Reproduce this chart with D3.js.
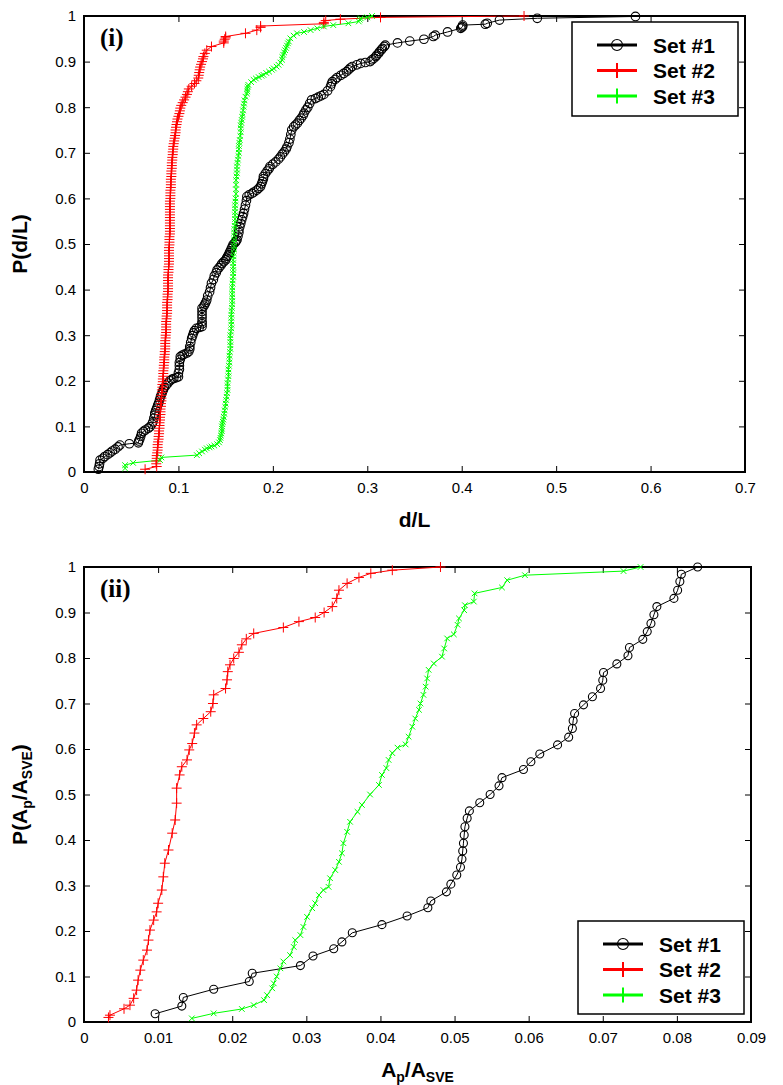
<!DOCTYPE html>
<html>
<head>
<meta charset="utf-8">
<script src="https://cdn.jsdelivr.net/npm/d3@7"></script>
<style>
  body { margin: 0; background: #fff; }
  svg { display: block; }
</style>
</head>
<body>
<div class="chart"></div>
<script>
// tick values
const yTicks = [0, 0.1, 0.2, 0.3, 0.4, 0.5, 0.6, 0.7, 0.8, 0.9, 1];
const xTicksTop = [0, 0.1, 0.2, 0.3, 0.4, 0.5, 0.6, 0.7];
const xTicksBottom = [0, 0.01, 0.02, 0.03, 0.04, 0.05, 0.06, 0.07, 0.08, 0.09];
const setNames = ["Set #1", "Set #2", "Set #3"];

// panel (i): d/L vs cumulative probability, [x, P]
const set1Top = [[0.0152,0.006],[0.016,0.012],[0.0165,0.018],[0.017,0.026],[0.020,0.030],[0.022,0.034],[0.025,0.038],[0.0276,0.042],[0.030,0.046],[0.033,0.050],[0.036,0.055],[0.038,0.059],[0.048,0.062],[0.0576,0.064],[0.058,0.068],[0.059,0.072],[0.060,0.078],[0.061,0.085],[0.063,0.089],[0.065,0.092],[0.068,0.096],[0.070,0.099],[0.072,0.105],[0.073,0.11],[0.074,0.118],[0.075,0.125],[0.075,0.129],[0.076,0.135],[0.077,0.14],[0.078,0.146],[0.079,0.151],[0.080,0.158],[0.081,0.165],[0.082,0.170],[0.083,0.175],[0.084,0.18],[0.085,0.185],[0.087,0.19],[0.089,0.195],[0.091,0.20],[0.093,0.203],[0.095,0.205],[0.098,0.207],[0.100,0.209],[0.100,0.217],[0.101,0.225],[0.101,0.233],[0.101,0.24],[0.102,0.247],[0.102,0.253],[0.104,0.256],[0.106,0.258],[0.109,0.261],[0.111,0.264],[0.112,0.27],[0.112,0.275],[0.113,0.284],[0.114,0.293],[0.115,0.299],[0.116,0.305],[0.117,0.31],[0.119,0.315],[0.122,0.317],[0.125,0.319],[0.125,0.325],[0.125,0.33],[0.125,0.338],[0.125,0.345],[0.125,0.352],[0.125,0.359],[0.127,0.364],[0.128,0.368],[0.129,0.372],[0.130,0.377],[0.131,0.386],[0.133,0.395],[0.134,0.404],[0.135,0.414],[0.137,0.422],[0.138,0.43],[0.140,0.437],[0.141,0.443],[0.143,0.448],[0.145,0.453],[0.146,0.457],[0.148,0.461],[0.150,0.465],[0.151,0.469],[0.152,0.473],[0.153,0.476],[0.154,0.481],[0.155,0.485],[0.156,0.49],[0.157,0.494],[0.158,0.499],[0.160,0.503],[0.161,0.506],[0.162,0.509],[0.163,0.517],[0.164,0.525],[0.164,0.531],[0.165,0.538],[0.166,0.545],[0.167,0.553],[0.168,0.56],[0.169,0.567],[0.170,0.576],[0.171,0.585],[0.172,0.595],[0.1725,0.604],[0.175,0.608],[0.178,0.611],[0.180,0.614],[0.183,0.618],[0.185,0.622],[0.187,0.626],[0.188,0.632],[0.189,0.637],[0.190,0.643],[0.190,0.648],[0.192,0.654],[0.194,0.66],[0.196,0.665],[0.197,0.670],[0.200,0.675],[0.203,0.68],[0.206,0.686],[0.208,0.691],[0.210,0.697],[0.212,0.702],[0.214,0.708],[0.215,0.713],[0.217,0.722],[0.218,0.73],[0.219,0.74],[0.220,0.75],[0.222,0.757],[0.224,0.761],[0.226,0.765],[0.228,0.771],[0.230,0.776],[0.232,0.782],[0.233,0.787],[0.235,0.794],[0.237,0.80],[0.239,0.808],[0.241,0.816],[0.245,0.819],[0.248,0.822],[0.251,0.825],[0.254,0.828],[0.258,0.836],[0.261,0.845],[0.262,0.851],[0.263,0.856],[0.266,0.861],[0.268,0.865],[0.272,0.870],[0.275,0.874],[0.278,0.878],[0.280,0.882],[0.282,0.886],[0.284,0.889],[0.289,0.893],[0.293,0.896],[0.298,0.898],[0.303,0.900],[0.305,0.904],[0.307,0.907],[0.309,0.911],[0.310,0.914],[0.312,0.918],[0.313,0.922],[0.315,0.926],[0.316,0.929],[0.318,0.933],[0.319,0.936],[0.332,0.941],[0.345,0.945],[0.360,0.949],[0.370,0.955],[0.372,0.958],[0.385,0.965],[0.399,0.973],[0.400,0.975],[0.401,0.977],[0.401,0.980],[0.425,0.982],[0.427,0.984],[0.440,0.991],[0.480,0.995],[0.584,0.999]];

const set2Top = [[0.0647,0.006],[0.077,0.012],[0.0765,0.018],[0.0765,0.024],[0.077,0.03],[0.077,0.036],[0.0775,0.042],[0.078,0.048],[0.078,0.054],[0.078,0.06],[0.0785,0.066],[0.079,0.072],[0.079,0.078],[0.0795,0.084],[0.0795,0.09],[0.080,0.096],[0.080,0.102],[0.080,0.108],[0.0805,0.114],[0.0805,0.12],[0.081,0.126],[0.081,0.132],[0.081,0.138],[0.0815,0.144],[0.0815,0.15],[0.082,0.156],[0.082,0.162],[0.082,0.168],[0.0825,0.174],[0.0825,0.18],[0.083,0.186],[0.083,0.192],[0.0835,0.198],[0.0835,0.204],[0.084,0.21],[0.084,0.216],[0.084,0.222],[0.0845,0.228],[0.0845,0.234],[0.085,0.24],[0.085,0.246],[0.085,0.252],[0.0855,0.258],[0.0855,0.264],[0.086,0.27],[0.086,0.276],[0.086,0.282],[0.086,0.288],[0.0865,0.294],[0.0865,0.30],[0.087,0.306],[0.087,0.312],[0.087,0.318],[0.087,0.324],[0.087,0.33],[0.0875,0.336],[0.0875,0.342],[0.088,0.348],[0.088,0.354],[0.088,0.36],[0.088,0.366],[0.088,0.372],[0.0885,0.378],[0.0885,0.384],[0.0885,0.39],[0.089,0.396],[0.089,0.402],[0.089,0.408],[0.089,0.414],[0.089,0.42],[0.089,0.426],[0.089,0.432],[0.0895,0.438],[0.0895,0.444],[0.0895,0.45],[0.090,0.456],[0.090,0.462],[0.090,0.468],[0.090,0.474],[0.090,0.48],[0.090,0.486],[0.090,0.492],[0.0905,0.498],[0.0905,0.504],[0.0905,0.51],[0.0905,0.516],[0.091,0.522],[0.091,0.528],[0.091,0.534],[0.091,0.54],[0.091,0.546],[0.091,0.552],[0.091,0.558],[0.091,0.564],[0.091,0.57],[0.091,0.576],[0.091,0.582],[0.091,0.588],[0.091,0.594],[0.0915,0.60],[0.0915,0.606],[0.0915,0.612],[0.0915,0.618],[0.092,0.624],[0.092,0.63],[0.092,0.636],[0.092,0.642],[0.0925,0.648],[0.0925,0.654],[0.0925,0.66],[0.093,0.666],[0.093,0.672],[0.093,0.678],[0.0935,0.684],[0.0935,0.69],[0.094,0.696],[0.094,0.702],[0.0945,0.708],[0.0945,0.714],[0.095,0.72],[0.0955,0.726],[0.096,0.732],[0.0965,0.738],[0.097,0.744],[0.097,0.75],[0.0975,0.756],[0.098,0.762],[0.0985,0.768],[0.099,0.774],[0.100,0.78],[0.101,0.786],[0.1015,0.792],[0.102,0.798],[0.103,0.804],[0.1045,0.81],[0.106,0.816],[0.1075,0.822],[0.109,0.828],[0.110,0.834],[0.111,0.84],[0.114,0.846],[0.117,0.852],[0.119,0.858],[0.121,0.864],[0.1215,0.87],[0.122,0.876],[0.1225,0.882],[0.123,0.888],[0.124,0.894],[0.125,0.90],[0.126,0.906],[0.1265,0.911],[0.128,0.918],[0.130,0.925],[0.135,0.933],[0.148,0.941],[0.148,0.945],[0.149,0.949],[0.150,0.952],[0.150,0.955],[0.171,0.962],[0.183,0.969],[0.187,0.975],[0.187,0.978],[0.254,0.983],[0.254,0.986],[0.256,0.990],[0.2715,0.993],[0.314,0.997],[0.466,1.0]];

const set3Top = [[0.0435,0.008],[0.0435,0.015],[0.052,0.020],[0.0806,0.026],[0.082,0.032],[0.1195,0.037],[0.122,0.041],[0.125,0.045],[0.128,0.049],[0.130,0.052],[0.133,0.054],[0.135,0.056],[0.138,0.058],[0.141,0.061],[0.143,0.065],[0.144,0.070],[0.1445,0.075],[0.145,0.08],[0.1455,0.085],[0.146,0.09],[0.146,0.095],[0.146,0.10],[0.1465,0.105],[0.147,0.11],[0.1475,0.115],[0.148,0.121],[0.1485,0.128],[0.149,0.135],[0.1495,0.143],[0.150,0.15],[0.1505,0.158],[0.151,0.165],[0.1515,0.173],[0.152,0.18],[0.152,0.188],[0.152,0.195],[0.1525,0.203],[0.153,0.21],[0.153,0.218],[0.153,0.225],[0.1535,0.233],[0.154,0.24],[0.154,0.248],[0.154,0.255],[0.1545,0.263],[0.155,0.27],[0.155,0.278],[0.155,0.285],[0.155,0.293],[0.155,0.30],[0.1555,0.308],[0.156,0.315],[0.156,0.323],[0.156,0.33],[0.156,0.338],[0.156,0.345],[0.1563,0.353],[0.1566,0.36],[0.157,0.368],[0.157,0.375],[0.157,0.383],[0.157,0.39],[0.157,0.398],[0.157,0.405],[0.1573,0.413],[0.1575,0.42],[0.158,0.428],[0.158,0.436],[0.158,0.443],[0.158,0.45],[0.158,0.458],[0.158,0.465],[0.1583,0.473],[0.1585,0.48],[0.159,0.488],[0.159,0.495],[0.159,0.503],[0.159,0.51],[0.159,0.518],[0.159,0.525],[0.1593,0.533],[0.1595,0.54],[0.160,0.548],[0.160,0.555],[0.160,0.563],[0.160,0.57],[0.160,0.578],[0.160,0.585],[0.1603,0.593],[0.1605,0.60],[0.161,0.61],[0.161,0.62],[0.161,0.63],[0.161,0.64],[0.1615,0.648],[0.162,0.655],[0.162,0.663],[0.162,0.670],[0.1625,0.678],[0.163,0.685],[0.1635,0.693],[0.164,0.70],[0.164,0.708],[0.164,0.715],[0.1645,0.722],[0.165,0.728],[0.1655,0.737],[0.166,0.745],[0.166,0.753],[0.166,0.76],[0.1665,0.766],[0.167,0.772],[0.1675,0.779],[0.168,0.785],[0.1685,0.793],[0.169,0.801],[0.1695,0.808],[0.170,0.815],[0.171,0.823],[0.1725,0.830],[0.173,0.835],[0.173,0.84],[0.1735,0.845],[0.174,0.849],[0.177,0.855],[0.1796,0.860],[0.182,0.863],[0.185,0.866],[0.188,0.869],[0.190,0.871],[0.193,0.875],[0.196,0.878],[0.199,0.882],[0.201,0.885],[0.204,0.889],[0.206,0.893],[0.208,0.898],[0.2097,0.904],[0.210,0.91],[0.211,0.915],[0.212,0.92],[0.213,0.925],[0.214,0.93],[0.215,0.935],[0.216,0.94],[0.217,0.944],[0.2185,0.951],[0.222,0.957],[0.2256,0.962],[0.233,0.965],[0.240,0.969],[0.247,0.973],[0.254,0.977],[0.264,0.980],[0.280,0.984],[0.291,0.988],[0.292,0.992],[0.293,0.995],[0.300,0.997],[0.305,1.0]];

// panel (ii): Ap/Asve vs cumulative probability, [x, P]
const set1Bottom = [[0.0096,0.018],[0.0132,0.035],[0.0134,0.054],[0.0175,0.072],[0.0223,0.089],[0.0227,0.107],[0.0292,0.124],[0.0309,0.145],[0.0337,0.161],[0.0348,0.176],[0.0362,0.196],[0.0402,0.214],[0.0436,0.233],[0.0464,0.251],[0.0468,0.266],[0.0489,0.286],[0.0495,0.303],[0.0503,0.323],[0.0508,0.340],[0.0510,0.358],[0.0511,0.376],[0.0512,0.393],[0.0513,0.411],[0.0514,0.429],[0.0517,0.448],[0.0520,0.464],[0.0534,0.482],[0.0548,0.500],[0.0560,0.519],[0.0564,0.537],[0.0593,0.555],[0.0603,0.572],[0.0615,0.589],[0.0639,0.609],[0.0654,0.626],[0.0659,0.645],[0.0660,0.662],[0.0662,0.678],[0.0674,0.697],[0.0686,0.715],[0.0697,0.733],[0.0700,0.751],[0.0701,0.768],[0.0719,0.787],[0.0734,0.805],[0.0736,0.823],[0.0754,0.841],[0.0760,0.858],[0.0765,0.876],[0.0769,0.895],[0.0773,0.913],[0.0796,0.931],[0.0801,0.949],[0.0804,0.968],[0.0806,0.984],[0.0828,1.0]];

const set2Bottom = [[0.0033,0.010],[0.0035,0.015],[0.0054,0.029],[0.0062,0.037],[0.0067,0.052],[0.0071,0.070],[0.0073,0.092],[0.0076,0.114],[0.0080,0.136],[0.0085,0.158],[0.0087,0.180],[0.0089,0.202],[0.0094,0.224],[0.0098,0.242],[0.0100,0.261],[0.0105,0.290],[0.0107,0.319],[0.0109,0.349],[0.0114,0.378],[0.0119,0.415],[0.0123,0.444],[0.0125,0.481],[0.0125,0.514],[0.0129,0.543],[0.0132,0.561],[0.0139,0.576],[0.0142,0.598],[0.0146,0.612],[0.0149,0.635],[0.0152,0.653],[0.0161,0.667],[0.0171,0.682],[0.0174,0.700],[0.0175,0.719],[0.0191,0.733],[0.0193,0.752],[0.0194,0.770],[0.0197,0.785],[0.0202,0.799],[0.0209,0.8125],[0.0213,0.829],[0.0219,0.842],[0.0229,0.854],[0.0269,0.867],[0.0290,0.880],[0.0312,0.889],[0.0324,0.900],[0.0335,0.913],[0.0341,0.931],[0.0344,0.949],[0.0355,0.964],[0.0371,0.977],[0.0387,0.986],[0.0416,0.993],[0.0481,1.0]];

const set3Bottom = [[0.01455,0.008],[0.0175,0.019],[0.0213,0.0286],[0.0229,0.037],[0.0243,0.048],[0.0247,0.059],[0.0254,0.074],[0.0256,0.085],[0.0260,0.100],[0.0265,0.118],[0.0269,0.133],[0.0278,0.147],[0.0283,0.165],[0.0285,0.180],[0.0292,0.191],[0.0296,0.209],[0.0301,0.231],[0.0308,0.250],[0.0312,0.261],[0.0317,0.279],[0.0323,0.290],[0.0330,0.297],[0.0332,0.316],[0.0339,0.334],[0.0344,0.352],[0.0348,0.371],[0.0350,0.393],[0.0355,0.418],[0.0359,0.440],[0.0369,0.462],[0.0375,0.477],[0.0386,0.500],[0.0398,0.521],[0.0402,0.543],[0.0408,0.558],[0.0411,0.576],[0.0416,0.591],[0.0423,0.603],[0.0434,0.610],[0.0438,0.627],[0.0443,0.649],[0.0447,0.667],[0.0452,0.686],[0.0454,0.700],[0.0458,0.719],[0.0461,0.737],[0.0463,0.755],[0.0465,0.774],[0.0472,0.788],[0.0483,0.803],[0.0486,0.821],[0.0490,0.843],[0.0499,0.852],[0.0504,0.873],[0.0506,0.887],[0.0513,0.905],[0.0514,0.916],[0.0526,0.924],[0.0527,0.942],[0.0564,0.955],[0.0571,0.971],[0.0595,0.982],[0.0728,0.991],[0.0751,1.0]];

const W = 783, H = 1085;
const colors = ["#000000", "#ff0000", "#00ff00"];
const markers = ["circle", "plus", "cross"];

const svg = d3.select(".chart").append("svg").attr("width", W).attr("height", H);
svg.append("rect").attr("width", W).attr("height", H).attr("fill", "#fff");

function markerPath(type, s) {
  if (type === "plus") return `M${-s},0H${s}M0,${-s}V${s}`;
  return `M${-s},${-s}L${s},${s}M${-s},${s}L${s},${-s}`;
}

function drawMarker(g, type, x, y, big, r) {
  if (type === "circle") {
    g.append("circle").attr("cx", x).attr("cy", y).attr("r", big ? 5.5 : r)
      .attr("fill", "none").attr("stroke", "#000").attr("stroke-width", 1.1);
  } else if (type === "plus") {
    g.append("path").attr("d", markerPath("plus", big ? 7.5 : 5))
      .attr("transform", `translate(${x},${y})`)
      .attr("stroke", "#ff0000").attr("stroke-width", big ? 2 : 1).attr("fill", "none");
  } else {
    g.append("path").attr("d", big ? markerPath("plus", 7.5) : markerPath("cross", 2.8))
      .attr("transform", `translate(${x},${y})`)
      .attr("stroke", "#00ff00").attr("stroke-width", big ? 2 : 1).attr("fill", "none");
  }
}

function panel(cfg) {
  const x = d3.scaleLinear().domain(cfg.xDomain).range([cfg.left, cfg.right]);
  const y = d3.scaleLinear().domain([0, 1]).range([cfg.bottom, cfg.top]);
  const fmt = d3.format("~g");
  const g = svg.append("g");

  // axes with inward ticks
  g.append("g").attr("transform", `translate(0,${cfg.bottom})`)
    .call(d3.axisBottom(x).tickValues(cfg.xTicks).tickFormat(fmt).tickSize(-6).tickPadding(10));
  g.append("g").attr("transform", `translate(0,${cfg.top})`)
    .call(d3.axisTop(x).tickValues(cfg.xTicks).tickFormat("").tickSize(-6));
  g.append("g").attr("transform", `translate(${cfg.left},0)`)
    .call(d3.axisLeft(y).tickValues(yTicks).tickFormat(fmt).tickSize(-6).tickPadding(8));
  g.append("g").attr("transform", `translate(${cfg.right},0)`)
    .call(d3.axisRight(y).tickValues(yTicks).tickFormat("").tickSize(-6));
  g.selectAll(".domain").remove();
  g.selectAll(".tick line").attr("stroke", "#000").attr("stroke-width", 1);
  g.selectAll(".tick text").attr("font-family", "Liberation Sans, Arial, sans-serif")
    .attr("font-size", 15).attr("fill", "#000");

  g.append("rect").attr("x", cfg.left).attr("y", cfg.top)
    .attr("width", cfg.right - cfg.left).attr("height", cfg.bottom - cfg.top)
    .attr("fill", "none").attr("stroke", "#000").attr("stroke-width", 2);

  // series
  const line = d3.line().x(d => x(d[0])).y(d => y(d[1]));
  cfg.series.forEach((data, i) => {
    g.append("path").datum(data).attr("d", line)
      .attr("fill", "none").attr("stroke", colors[i]).attr("stroke-width", 1);
  });
  cfg.series.forEach((data, i) => {
    const mg = g.append("g");
    data.forEach(d => drawMarker(mg, markers[i], x(d[0]), y(d[1]), false, cfg.circleR));
  });

  // panel tag
  g.append("text").attr("x", cfg.left + 16).attr("y", cfg.top + 30)
    .attr("font-family", "Liberation Serif, Times New Roman, serif")
    .attr("font-weight", "bold").attr("font-size", 25).text(cfg.tag);

  // axis titles
  const xt = g.append("text").attr("x", (cfg.left + cfg.right) / 2).attr("y", cfg.bottom + 55)
    .attr("text-anchor", "middle").attr("font-family", "Liberation Sans, Arial, sans-serif")
    .attr("font-weight", "bold").attr("font-size", 21);
  cfg.xTitle(xt);
  const yt = g.append("text")
    .attr("transform", `translate(27,${(cfg.top + cfg.bottom) / 2}) rotate(-90)`)
    .attr("text-anchor", "middle").attr("font-family", "Liberation Sans, Arial, sans-serif")
    .attr("font-weight", "bold").attr("font-size", 21);
  cfg.yTitle(yt);

  // legend
  const L = cfg.legend;
  const lg = g.append("g");
  lg.append("rect").attr("x", L.x).attr("y", L.y).attr("width", L.w).attr("height", L.h)
    .attr("fill", "#fff").attr("stroke", "#000").attr("stroke-width", 1.5);
  setNames.forEach((name, i) => {
    const ry = L.y + 23 + i * 25.5;
    lg.append("line").attr("x1", L.x + 25).attr("x2", L.x + 65).attr("y1", ry).attr("y2", ry)
      .attr("stroke", colors[i]).attr("stroke-width", 3);
    drawMarker(lg, markers[i], L.x + 45, ry, true);
    lg.append("text").attr("x", L.x + 81).attr("y", ry).attr("dy", "0.36em")
      .attr("font-family", "Liberation Sans, Arial, sans-serif")
      .attr("font-weight", "bold").attr("font-size", 21).text(name);
  });
}

panel({
  left: 84, right: 745, top: 16, bottom: 472,
  xDomain: [0, 0.7], xTicks: xTicksTop, circleR: 4.3,
  series: [set1Top, set2Top, set3Top],
  tag: "(i)",
  xTitle: t => t.text("d/L"),
  yTitle: t => t.text("P(d/L)"),
  legend: { x: 572, y: 22, w: 166, h: 94 }
});

panel({
  left: 84, right: 751, top: 567, bottom: 1022,
  xDomain: [0, 0.09], xTicks: xTicksBottom, circleR: 4,
  series: [set1Bottom, set2Bottom, set3Bottom],
  tag: "(ii)",
  xTitle: t => {
    t.append("tspan").text("A");
    t.append("tspan").attr("font-size", 14).attr("dy", 5).text("p");
    t.append("tspan").attr("dy", -5).text("/A");
    t.append("tspan").attr("font-size", 14).attr("dy", 5).text("SVE");
  },
  yTitle: t => {
    t.append("tspan").text("P(A");
    t.append("tspan").attr("font-size", 14).attr("dy", 5).text("p");
    t.append("tspan").attr("dy", -5).text("/A");
    t.append("tspan").attr("font-size", 14).attr("dy", 5).text("SVE");
    t.append("tspan").attr("dy", -5).text(")");
  },
  legend: { x: 578, y: 921, w: 166, h: 93 }
});
</script>
</body>
</html>
